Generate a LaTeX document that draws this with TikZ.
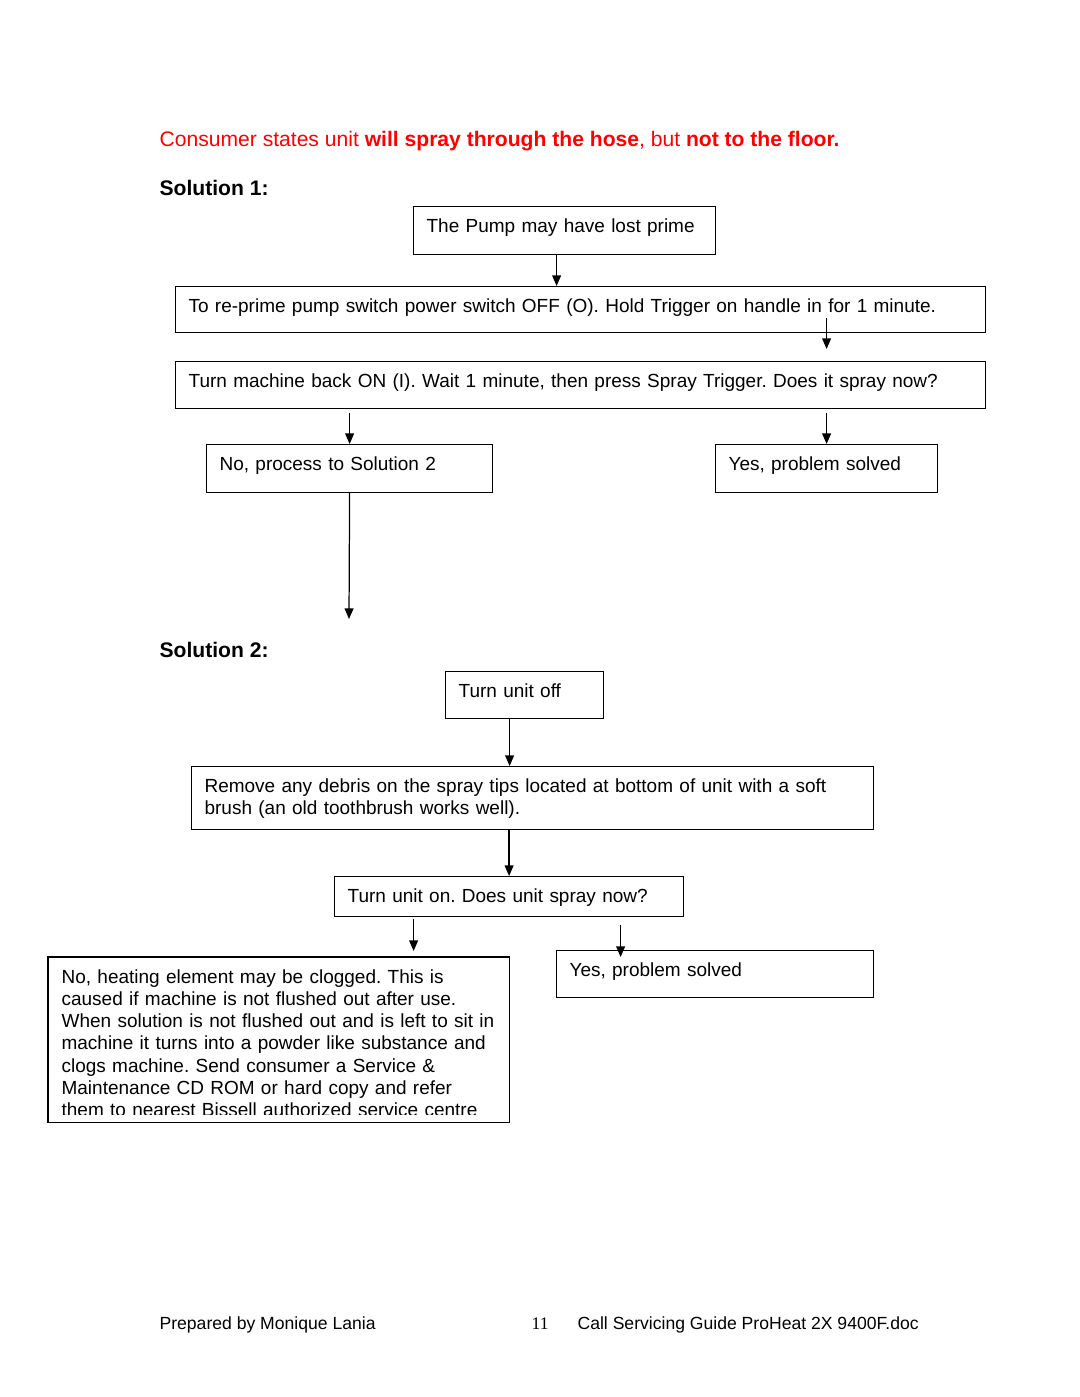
\documentclass[tikz,border=0pt]{standalone}
\usepackage{fontspec}
\setmainfont{Liberation Sans}
\newfontfamily\pagefont{Liberation Serif}
\usetikzlibrary{calc,arrows.meta}
\frenchspacing

\begin{document}
\begin{tikzpicture}[x=0.5688pt,y=-0.5688pt,line width=.7pt,
  box/.style={draw, anchor=north west, align=left, inner xsep=7.39pt, inner ysep=0pt,
    text height=14.5pt, font=\fontsize{10.8}{12.65}\selectfont},
  arr/.style={-{Triangle[width=5pt,length=6pt]}},
  head/.style={anchor=base west, inner sep=0pt, font=\fontsize{12}{14}\selectfont\bfseries}]
\useasboundingbox (0,0) rectangle (1080,1397);
% Heading
\node[anchor=base west, inner sep=0pt, text=red, font=\fontsize{12}{14}\selectfont] (title) at (159,146)
  {Consumer states unit \textbf{will spray through the hose}, but \textbf{not to the floor.}};
%----------------------Solution 1 ---------------------------------
\node[head] (sol1) at (159,195) {Solution 1:};
% Boxes
\node[box, text width=156.99pt, text depth=12.80pt] (pump) at (413,206) {The Pump may have lost prime};
\node[box, text width=445.94pt, text depth=11.66pt] (reprime) at (175,286) {To re-prime pump switch power switch OFF (O). Hold Trigger on handle in for 1 minute.};
\node[box, text width=445.94pt, text depth=12.23pt] (back) at (175,361) {Turn machine back ON (I). Wait 1 minute, then press Spray Trigger. Does it spray now?};
\node[box, text width=147.89pt, text depth=12.80pt] (no1) at (206,444) {No, process to Solution 2};
\node[box, text width=111.48pt, text depth=12.80pt] (yes1) at (715,444) {Yes, problem solved};
\coordinate (tosol2) at (349,619);
% Arrows
\draw[arr] ($(pump.south)+(-8,0)$) coordinate (p1) -- (p1 |- reprime.north);
\draw[arr] ($(reprime.north)+(246,32)$) coordinate (p2) -- ($(p2 |- back.north)+(0,-12)$);
\draw[arr] ($(no1.north |- back.south)+(0,4)$) -- (no1.north);
\draw[arr] ($(yes1.north |- back.south)+(0,4)$) -- (yes1.north);
\draw[arr] (no1.south) -- (tosol2);
%----------------------Solution 2 ---------------------------------
\node[head] (sol2) at (159,657) {Solution 2:};
% Boxes
\node[box, text width=75.08pt, text depth=12.23pt] (off) at (445,671) {Turn unit off};
\node[box, text width=373.13pt, text depth=21.33pt] (debris) at (191,766) {Remove any debris on the spray tips located at bottom of unit with a soft\\brush (an old toothbrush works well).};
\node[box, text width=183.72pt, text depth=8.25pt] (on) at (334,876) {Turn unit on. Does unit spray now?};
\node[box, text width=165.52pt, text depth=12.23pt] (yes2) at (556,950) {Yes, problem solved};
\begin{scope}
\clip (0,0) rectangle (1080,1114);
\node[box, draw=none, text width=246.86pt, text depth=78.78pt] (clog) at (48,957)
  {No, heating element may be clogged. This is\\
   caused if machine is not flushed out after use.\\
   When solution is not flushed out and is left to sit in\\
   machine it turns into a powder like substance and\\
   clogs machine. Send consumer a Service \&\\
   Maintenance CD ROM or hard copy and refer\\
   them to nearest Bissell authorized service centre};
\end{scope}
\draw (clog.north west) rectangle (clog.south east);
% Arrows
\draw[arr] ($(off.south)+(-15,0)$) coordinate (p3) -- (p3 |- debris.north);
\draw[arr] (on.north |- debris.south) -- (on.north);
\draw[arr] ($(on.south)+(-95.5,2)$) coordinate (p4) -- ($(p4 |- clog.north)+(0,-6)$);
\draw[arr] ($(on.south)+(111.5,8)$) coordinate (p5) -- ($(p5 |- yes2.north)+(0,7)$);
% Footer
\node[anchor=base west, inner sep=0pt, font=\fontsize{10}{12}\selectfont] (author) at (159,1329) {Prepared by Monique Lania};
\node[anchor=base west, inner sep=0pt, font=\fontsize{10}{12}\selectfont\pagefont] (page) at (531,1329) {11};
\node[anchor=base west, inner sep=0pt, font=\fontsize{10}{12}\selectfont] (guide) at (577,1329) {Call Servicing Guide ProHeat 2X 9400F.doc};
\end{tikzpicture}
\end{document}
